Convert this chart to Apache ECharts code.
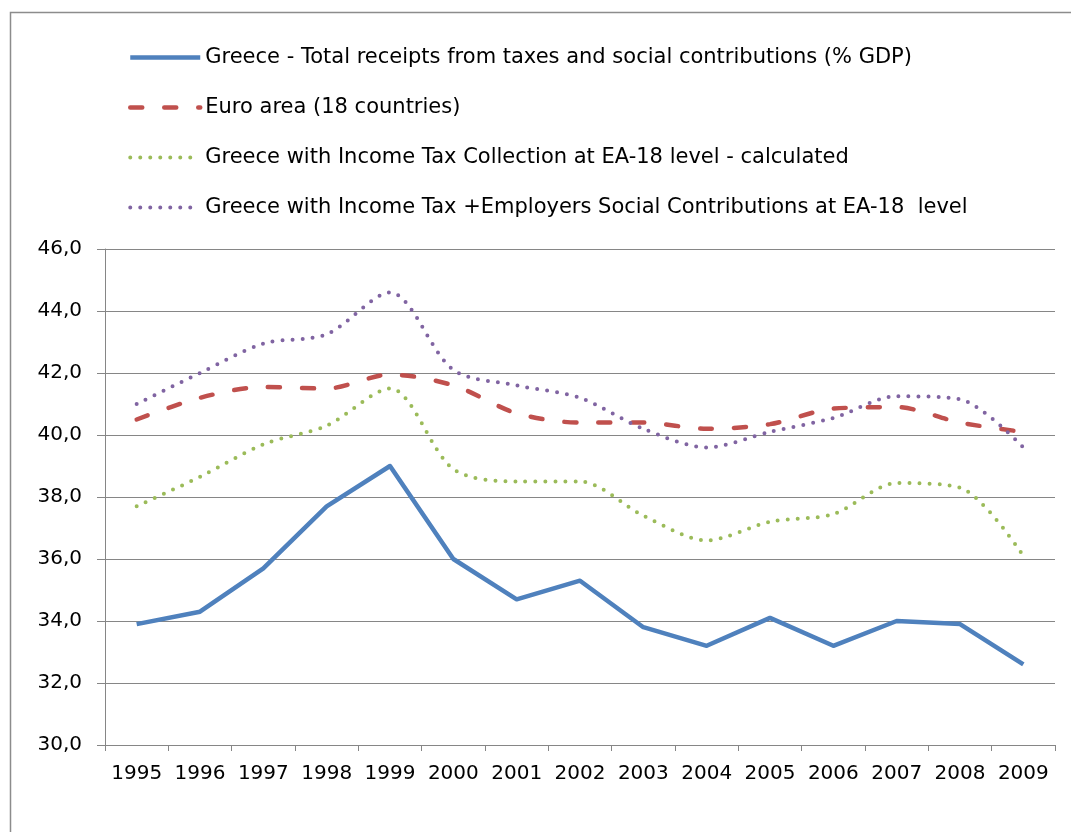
<!DOCTYPE html>
<html>
<head>
<meta charset="utf-8">
<script src="https://cdn.jsdelivr.net/npm/echarts@6/dist/echarts.min.js"></script>
<style>
html,body{margin:0;padding:0;background:#fff;}
#chart{width:1071px;height:832px;}
</style>
</head>
<body>
<div id="chart"></div>
<script>
const years = ['1995','1996','1997','1998','1999','2000','2001','2002','2003','2004','2005','2006','2007','2008','2009'];
const seriesNames = [
  'Greece - Total receipts from taxes and social contributions (% GDP)',
  'Euro area (18 countries)',
  'Greece with Income Tax Collection at EA-18 level - calculated',
  'Greece with Income Tax +Employers Social Contributions at EA-18  level'
];
const greeceTotal = [33.9, 34.3, 35.7, 37.7, 39.0, 36.0, 34.7, 35.3, 33.8, 33.2, 34.1, 33.2, 34.0, 33.9, 32.6];
const euroArea   = [40.5, 41.2, 41.55, 41.5, 41.95, 41.6, 40.7, 40.4, 40.4, 40.2, 40.35, 40.85, 40.9, 40.4, 40.1];
const greeceIncomeTax = [37.7, 38.65, 39.7, 40.3, 41.5, 38.9, 38.5, 38.5, 37.4, 36.6, 37.2, 37.45, 38.45, 38.3, 36.1];
const greeceIncomeEmployers = [41.0, 42.0, 42.95, 43.25, 44.6, 42.1, 41.6, 41.2, 40.2, 39.6, 40.1, 40.55, 41.25, 41.15, 39.6];
const yMin = 30, yMax = 46, yStep = 2;

const colors = ['#4F81BD', '#C0504D', '#9BBB59', '#8064A2'];
const lineStyles = [
  {width: 4.5, type: 'solid', cap: 'butt'},
  {width: 4.5, type: [12, 22], cap: 'round'},
  {width: 4, type: [0, 10], cap: 'round'},
  {width: 4, type: [0, 10], cap: 'round'}
];
const font = "'DejaVu Sans', Verdana, sans-serif";
const chart = echarts.init(document.getElementById('chart'), null, {renderer: 'canvas'});
chart.setOption({
  animation: false,
  backgroundColor: '#fff',
  graphic: [{
    type: 'rect', left: 8, top: 10, z: -1,
    shape: {width: 1200, height: 1000},
    style: {fill: 'none', stroke: '#8c8c8c', lineWidth: 1.5}
  }],
  legend: {
    orient: 'vertical', left: 123, top: 42,
    itemWidth: 70, itemHeight: 20, itemGap: 29,
    itemStyle: {color: 'rgba(0,0,0,0)', borderWidth: 0, opacity: 0},
    textStyle: {fontFamily: font, fontSize: 21, color: '#000'},
    data: seriesNames.map((n, i) => ({
      name: n,
      lineStyle: {color: colors[i], width: lineStyles[i].width, type: lineStyles[i].type, cap: lineStyles[i].cap}
    }))
  },
  grid: {left: 105, right: 16, top: 249, bottom: 87, containLabel: false},
  xAxis: {
    type: 'category', data: years, boundaryGap: true,
    axisLine: {lineStyle: {color: '#868686', width: 1}},
    axisTick: {show: true, length: 6, interval: 0, lineStyle: {color: '#868686'}},
    axisLabel: {fontFamily: font, fontSize: 20, color: '#000', margin: 19, interval: 0}
  },
  yAxis: {
    type: 'value', min: yMin, max: yMax, interval: yStep,
    axisLine: {show: true, lineStyle: {color: '#868686', width: 1}},
    axisTick: {show: true, length: 8, lineStyle: {color: '#868686'}},
    axisLabel: {fontFamily: font, fontSize: 20, color: '#000', margin: 23,
      formatter: v => v.toFixed(1).replace('.', ',')},
    splitLine: {lineStyle: {color: '#868686', width: 1}}
  },
  series: [
    {name: seriesNames[0], type: 'line', data: greeceTotal, symbol: 'none',
      lineStyle: Object.assign({color: colors[0], join: 'round'}, lineStyles[0]), itemStyle: {color: colors[0]}},
    {name: seriesNames[1], type: 'line', data: euroArea, symbol: 'none', smooth: 0.3,
      lineStyle: Object.assign({color: colors[1]}, lineStyles[1]), itemStyle: {color: colors[1]}},
    {name: seriesNames[2], type: 'line', data: greeceIncomeTax, symbol: 'none', smooth: 0.3,
      lineStyle: Object.assign({color: colors[2]}, lineStyles[2]), itemStyle: {color: colors[2]}},
    {name: seriesNames[3], type: 'line', data: greeceIncomeEmployers, symbol: 'none', smooth: 0.3,
      lineStyle: Object.assign({color: colors[3]}, lineStyles[3]), itemStyle: {color: colors[3]}}
  ]
});
</script>
</body>
</html>
